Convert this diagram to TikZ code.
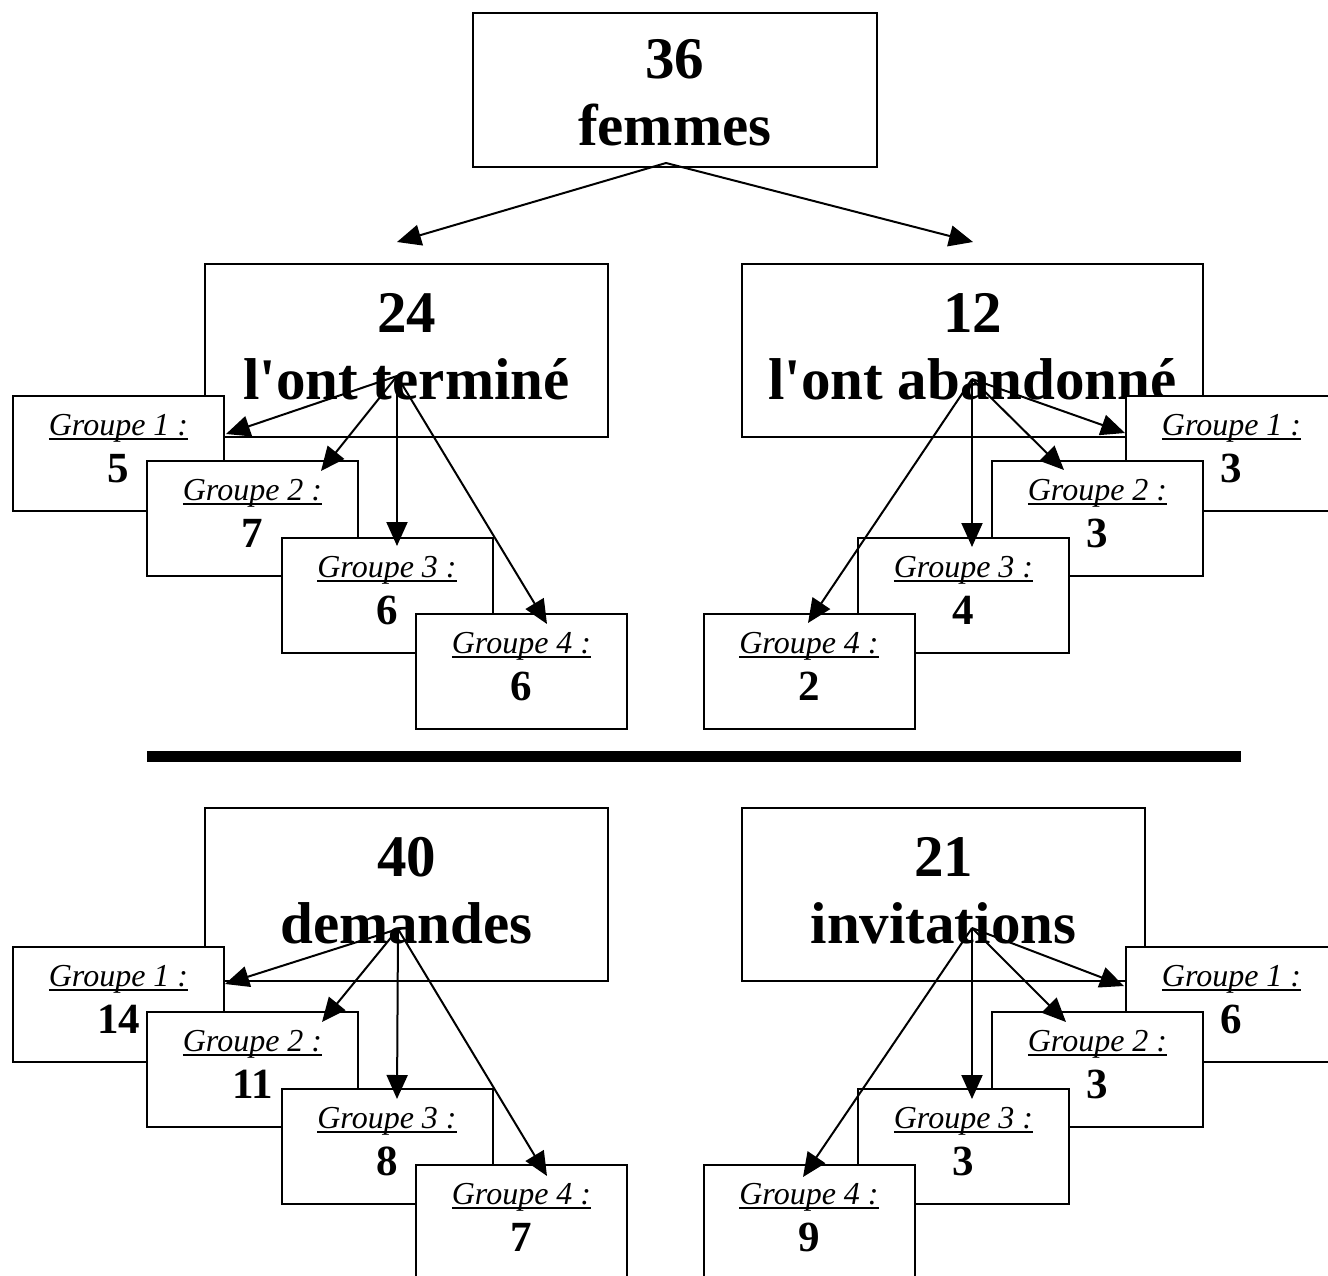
\documentclass[tikz,border=0pt]{standalone}
\usepackage{fontspec}
\setmainfont{Liberation Serif}
\usetikzlibrary{arrows.meta,calc}
\newcommand\sq{{\XeTeXglyph\XeTeXcharglyph"0027\relax}}
\newcommand\grpul[1]{\setbox0=\hbox{#1}\rlap{\rule[-4.5pt]{\wd0}{2pt}}\box0}
\tikzset{
  box/.style={draw, line width=2pt, fill=white, inner sep=0pt, align=center},
  topbox/.style={box, minimum width=404pt, minimum height=154pt, font=\bfseries\fontsize{59}{67}\selectfont},
  bigbox/.style={box, minimum width=#1, minimum height=173pt, font=\bfseries\fontsize{59}{67}\selectfont},
  grpbox/.style={box, minimum width=211pt, minimum height=115pt, font=\fontsize{32}{47}\selectfont},
  conn/.style={line width=2pt, -{Triangle[length=24pt,width=21pt]}},
  sepline/.style={line width=11pt},
}
\newcommand\grp[5]{\node[grpbox] (#1) at (#2,#3) {\grpul{\itshape Groupe #4 :}\\{\fontsize{43}{47}\selectfont\bfseries #5}\rule[-10pt]{0pt}{10pt}};}
\begin{document}
\begin{tikzpicture}[x=1pt,y=-1pt]
\useasboundingbox (0,0) rectangle (1328,1276);
\clip (0,0) rectangle (1328,1276);
\fill[white] (0,0) rectangle (1328,1276);

% top
\node[topbox] (top) at (674.7,90.5) {\rule{0pt}{44pt}36\\femmes};
\coordinate (topA) at (666,163);
\coordinate (topL) at (397,242);
\coordinate (topR) at (973,242);
\draw[conn] (topA) -- (topL);
\draw[conn] (topA) -- (topR);

% top-left group
\node[bigbox=403pt] (ter) at (406.5,350.5) {24\\l\sq ont terminé\rule[-8pt]{0pt}{8pt}};
\grp{tl1}{118.5}{453.5}{1}{5}
\grp{tl2}{252.5}{518}{2}{7}
\grp{tl3}{387}{595}{3}{6}
\grp{tl4}{521.5}{671}{4}{6}
\coordinate (tlA) at (397,376);
\coordinate (tlT1) at (226,434);
\coordinate (tlT2) at (321,471);
\coordinate (tlT3) at (397,546);
\coordinate (tlT4) at (547,624);
\foreach \i in {1,...,4} {\draw[conn] (tlA) -- (tlT\i);}

% top-right group
\node[bigbox=461pt] (aba) at (972.5,350.5) {12\\l\sq ont abandonné\rule[-8pt]{0pt}{8pt}};
\grp{tr1}{1231.5}{453.5}{1}{3}
\grp{tr2}{1097.5}{518}{2}{3}
\grp{tr3}{963.5}{595}{3}{4}
\grp{tr4}{809}{671}{4}{2}
\coordinate (trA) at (972,379);
\coordinate (trT1) at (1125,433);
\coordinate (trT2) at (1064,470);
\coordinate (trT3) at (972,547);
\coordinate (trT4) at (808,623);
\foreach \i in {1,...,4} {\draw[conn] (trA) -- (trT\i);}

% separator
\coordinate (sepL) at (147,756.5);
\coordinate (sepR) at (1241,756.5);
\draw[sepline] (sepL) -- (sepR);

% bottom-left group
\node[bigbox=403pt] (dem) at (406.5,894.5) {40\\demandes\rule[-8pt]{0pt}{8pt}};
\grp{bl1}{118.5}{1004.5}{1}{14}
\grp{bl2}{252.5}{1069}{2}{11}
\grp{bl3}{387}{1146}{3}{8}
\grp{bl4}{521.5}{1222}{4}{7}
\coordinate (blA) at (398,929);
\coordinate (blT1) at (225,984);
\coordinate (blT2) at (322,1022);
\coordinate (blT3) at (397,1099);
\coordinate (blT4) at (547,1176);
\foreach \i in {1,...,4} {\draw[conn] (blA) -- (blT\i);}

% bottom-right group
\node[bigbox=403pt] (inv) at (943.5,894.5) {21\\invitations\rule[-8pt]{0pt}{8pt}};
\grp{br1}{1231.5}{1004.5}{1}{6}
\grp{br2}{1097.5}{1069}{2}{3}
\grp{br3}{963.5}{1146}{3}{3}
\grp{br4}{809}{1222}{4}{9}
\coordinate (brA) at (972,928);
\coordinate (brT1) at (1124,986);
\coordinate (brT2) at (1066,1022);
\coordinate (brT3) at (972,1099);
\coordinate (brT4) at (803,1177);
\foreach \i in {1,...,4} {\draw[conn] (brA) -- (brT\i);}
\end{tikzpicture}
\end{document}
